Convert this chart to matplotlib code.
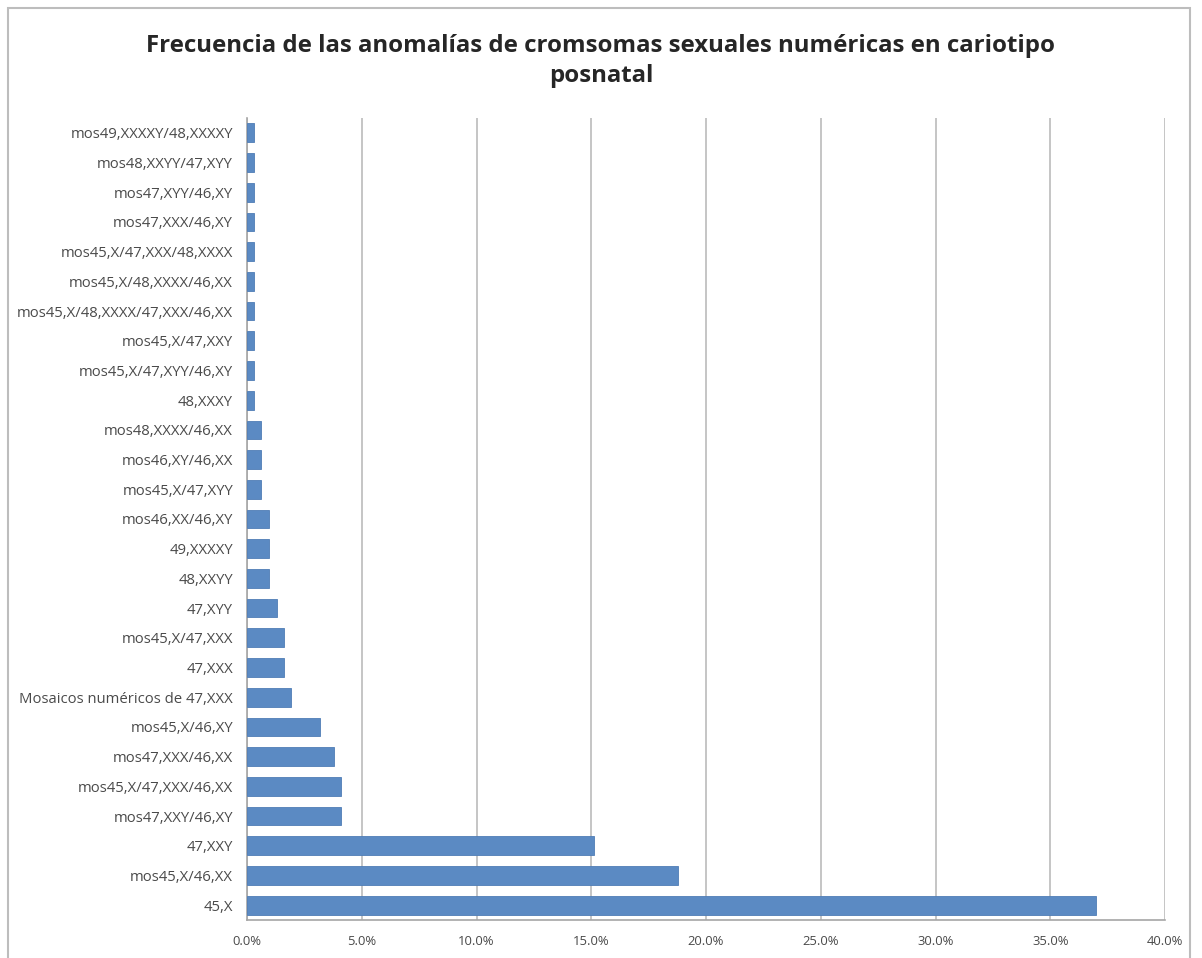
import matplotlib
matplotlib.use("Agg")
import matplotlib.pyplot as plt
from matplotlib.patches import Rectangle
from matplotlib.ticker import FuncFormatter, MultipleLocator

# Cariotipos, de abajo hacia arriba
categories = [
    "45,X",
    "mos45,X/46,XX",
    "47,XXY",
    "mos47,XXY/46,XY",
    "mos45,X/47,XXX/46,XX",
    "mos47,XXX/46,XX",
    "mos45,X/46,XY",
    "Mosaicos numéricos de 47,XXX",
    "47,XXX",
    "mos45,X/47,XXX",
    "47,XYY",
    "48,XXYY",
    "49,XXXXY",
    "mos46,XX/46,XY",
    "mos45,X/47,XYY",
    "mos46,XY/46,XX",
    "mos48,XXXX/46,XX",
    "48,XXXY",
    "mos45,X/47,XYY/46,XY",
    "mos45,X/47,XXY",
    "mos45,X/48,XXXX/47,XXX/46,XX",
    "mos45,X/48,XXXX/46,XX",
    "mos45,X/47,XXX/48,XXXX",
    "mos47,XXX/46,XY",
    "mos47,XYY/46,XY",
    "mos48,XXYY/47,XYY",
    "mos49,XXXXY/48,XXXXY",
]

# Frecuencia relativa (fracción)
frequencies = [
    0.370, 0.188, 0.151, 0.041, 0.041, 0.038, 0.032, 0.019, 0.016, 0.016,
    0.013, 0.0095, 0.0095, 0.0095, 0.0063, 0.0063, 0.0063,
    0.0032, 0.0032, 0.0032, 0.0032, 0.0032, 0.0032, 0.0032, 0.0032, 0.0032, 0.0032,
]

title = "Frecuencia de las anomalías de cromsomas sexuales numéricas en cariotipo\nposnatal"

plt.rcParams["font.family"] = ["Open Sans", "DejaVu Sans"]

fig = plt.figure(figsize=(12.02, 9.58), dpi=100)
fig.patch.set_facecolor("white")

# marco exterior del gráfico
fig.patches.append(Rectangle((8 / 1202, -0.02), (1190 - 8) / 1202, 1.02 - 8 / 958,
                             transform=fig.transFigure, fill=False,
                             edgecolor="#bdbdbd", linewidth=1.5))

ax = fig.add_axes([247 / 1202, 1 - 920 / 958, (1165 - 247) / 1202, (920 - 118) / 958])

y = list(range(len(categories)))
ax.barh(y, frequencies, height=0.63, color="#5b8ac3", edgecolor="#4f7db6", linewidth=0.6, zorder=3)

ax.set_xlim(0, 0.40)
ax.set_ylim(-0.5, len(categories) - 0.5)
ax.set_yticks(y)
ax.set_yticklabels(categories, fontsize=10.7, color="#4a4a4a")
ax.xaxis.set_major_locator(MultipleLocator(0.05))
ax.xaxis.set_major_formatter(FuncFormatter(lambda v, _: f"{v * 100:.1f}%"))
ax.tick_params(axis="x", labelsize=9.4, colors="#4a4a4a", length=0, pad=11)
ax.tick_params(axis="y", length=0, pad=10)

ax.grid(axis="x", color="#c0c0c0", linewidth=1.3, zorder=0)
for side in ("top", "right"):
    ax.spines[side].set_visible(False)
ax.spines["left"].set_color("#a6a6a6")
ax.spines["bottom"].set_color("#a6a6a6")
ax.spines["left"].set_linewidth(1.2)
ax.spines["bottom"].set_linewidth(1.2)

fig.text(0.5, 1 - 61 / 958, title, ha="center", va="center", fontsize=17.3,
         fontweight="bold", color="#262626", linespacing=1.35)

fig.savefig("out.png", dpi=100, facecolor="white")
